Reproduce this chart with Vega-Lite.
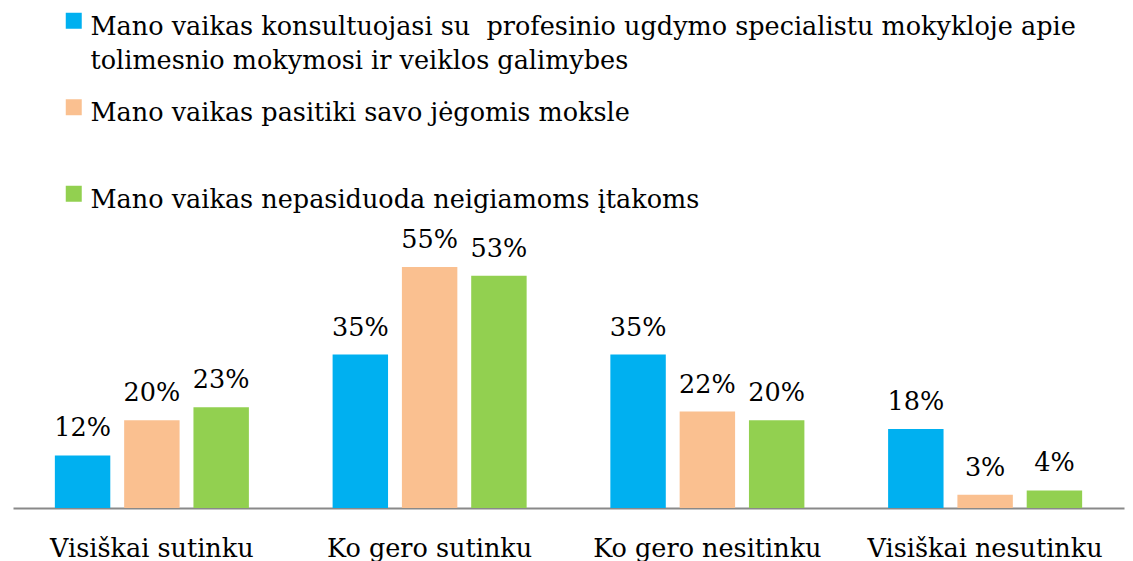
{
  "$schema": "https://vega.github.io/schema/vega-lite/v6.json",
  "width": 1111,
  "height": 263,
  "autosize": "none",
  "padding": {"left": 13, "top": 245, "right": 9, "bottom": 53},
  "background": "white",
  "config": {
    "font": "DejaVu Serif",
    "view": {"stroke": null}
  },
  "data": {
    "values": [
      {"category": "Visiškai sutinku", "series": "Mano vaikas konsultuojasi su  profesinio ugdymo specialistu mokykloje apie tolimesnio mokymosi ir veiklos galimybes", "value": 0.12},
      {"category": "Visiškai sutinku", "series": "Mano vaikas pasitiki savo jėgomis moksle", "value": 0.20},
      {"category": "Visiškai sutinku", "series": "Mano vaikas nepasiduoda neigiamoms įtakoms", "value": 0.23},
      {"category": "Ko gero sutinku", "series": "Mano vaikas konsultuojasi su  profesinio ugdymo specialistu mokykloje apie tolimesnio mokymosi ir veiklos galimybes", "value": 0.35},
      {"category": "Ko gero sutinku", "series": "Mano vaikas pasitiki savo jėgomis moksle", "value": 0.55},
      {"category": "Ko gero sutinku", "series": "Mano vaikas nepasiduoda neigiamoms įtakoms", "value": 0.53},
      {"category": "Ko gero nesitinku", "series": "Mano vaikas konsultuojasi su  profesinio ugdymo specialistu mokykloje apie tolimesnio mokymosi ir veiklos galimybes", "value": 0.35},
      {"category": "Ko gero nesitinku", "series": "Mano vaikas pasitiki savo jėgomis moksle", "value": 0.22},
      {"category": "Ko gero nesitinku", "series": "Mano vaikas nepasiduoda neigiamoms įtakoms", "value": 0.20},
      {"category": "Visiškai nesutinku", "series": "Mano vaikas konsultuojasi su  profesinio ugdymo specialistu mokykloje apie tolimesnio mokymosi ir veiklos galimybes", "value": 0.18},
      {"category": "Visiškai nesutinku", "series": "Mano vaikas pasitiki savo jėgomis moksle", "value": 0.03},
      {"category": "Visiškai nesutinku", "series": "Mano vaikas nepasiduoda neigiamoms įtakoms", "value": 0.04}
    ]
  },
  "encoding": {
    "x": {
      "field": "category",
      "type": "nominal",
      "sort": ["Visiškai sutinku", "Ko gero sutinku", "Ko gero nesitinku", "Visiškai nesutinku"],
      "scale": {"paddingInner": 0, "paddingOuter": 0},
      "axis": {
        "title": null,
        "labelAngle": 0,
        "labelFontSize": 25.5,
        "labelColor": "black",
        "labelLimit": 0,
        "labelBaseline": "alphabetic",
        "labelPadding": 48,
        "ticks": false,
        "domainColor": "#898989",
        "domainWidth": 2,
        "grid": false
      }
    },
    "xOffset": {
      "field": "series",
      "type": "nominal",
      "sort": [
        "Mano vaikas konsultuojasi su  profesinio ugdymo specialistu mokykloje apie tolimesnio mokymosi ir veiklos galimybes",
        "Mano vaikas pasitiki savo jėgomis moksle",
        "Mano vaikas nepasiduoda neigiamoms įtakoms"
      ],
      "scale": {"paddingInner": 0.2, "paddingOuter": 0.604}
    },
    "y": {
      "field": "value",
      "type": "quantitative",
      "scale": {"domain": [0, 0.6]},
      "axis": null
    }
  },
  "layer": [
    {
      "mark": {"type": "bar"},
      "encoding": {
        "color": {
          "field": "series",
          "type": "nominal",
          "sort": [
            "Mano vaikas konsultuojasi su  profesinio ugdymo specialistu mokykloje apie tolimesnio mokymosi ir veiklos galimybes",
            "Mano vaikas pasitiki savo jėgomis moksle",
            "Mano vaikas nepasiduoda neigiamoms įtakoms"
          ],
          "scale": {"range": ["#00B0F0", "#FAC090", "#92D050"]},
          "legend": {
            "title": null,
            "orient": "none",
            "legendX": 48,
            "legendY": -237,
            "direction": "vertical",
            "symbolType": "square",
            "symbolSize": 256,
            "symbolStrokeWidth": 0,
            "symbolOpacity": 1,
            "labelFontSize": 25.5,
            "labelColor": "black",
            "labelLimit": 0,
            "labelOffset": 4,
            "labelBaseline": "alphabetic",
            "rowPadding": 19.5,
            "labelExpr": "indexof(datum.label, 'tolimesnio') > 0 ? ['Mano vaikas konsultuojasi su \u00a0profesinio ugdymo specialistu mokykloje apie', 'tolimesnio mokymosi ir veiklos galimybes'] : indexof(datum.label, 'pasitiki') >= 0 ? [datum.label, ''] : datum.label",
            "encode": {
              "labels": {"update": {"dy": {"value": 14}, "lineHeight": {"value": 34}}}
            }
          }
        }
      }
    },
    {
      "mark": {"type": "text", "baseline": "alphabetic", "dy": -19, "fontSize": 25.5, "color": "black"},
      "encoding": {
        "text": {"field": "value", "type": "quantitative", "format": ".0%"},
        "xOffset": {
          "field": "series",
          "type": "nominal",
          "sort": [
            "Mano vaikas konsultuojasi su  profesinio ugdymo specialistu mokykloje apie tolimesnio mokymosi ir veiklos galimybes",
            "Mano vaikas pasitiki savo jėgomis moksle",
            "Mano vaikas nepasiduoda neigiamoms įtakoms"
          ]
        }
      }
    }
  ]
}
